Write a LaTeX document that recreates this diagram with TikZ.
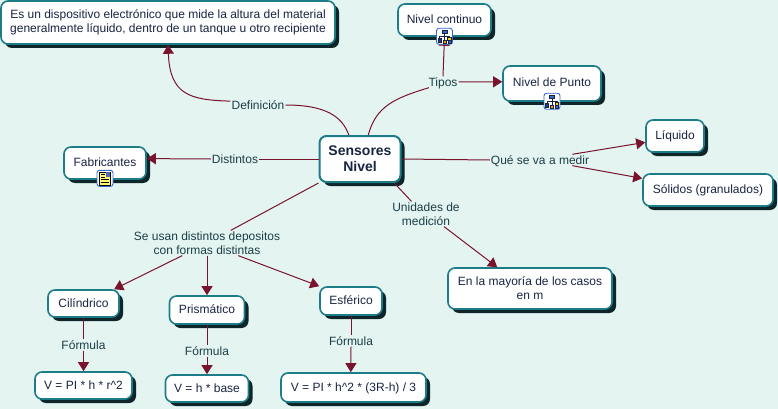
\documentclass[tikz,border=0pt]{standalone}
\usepackage{fontspec}
\setmainfont{Liberation Sans}
\usetikzlibrary{positioning,arrows.meta,shadows}
\definecolor{bgcol}{RGB}{227,244,241}
\definecolor{edgecol}{RGB}{28,125,137}
\definecolor{shadecol}{RGB}{14,38,42}
\definecolor{linkcol}{RGB}{122,20,46}
\definecolor{boxtxt}{RGB}{24,36,66}
\definecolor{labtxt}{RGB}{28,62,72}
\definecolor{iconcol}{RGB}{50,105,205}
\tikzset{
  iconframe/.style={draw=iconcol, fill=white, rounded corners=2.5pt, line width=0.9pt},
  hiericon/.pic={
    \path[iconframe] (-8,-8) rectangle (8,8);
    \draw[boxtxt, line width=0.4pt] (0,-3)--(0,4) (-5,0)--(5,0) (-5,0)--(-5,4) (5,0)--(5,1);
    \draw[boxtxt, fill=iconcol, line width=0.4pt] (-2.5,-6) rectangle (2.5,-3);
    \draw[boxtxt, fill=yellow!70!orange, line width=0.4pt] (3,1) rectangle (6.5,3.5);
    \draw[boxtxt, fill=iconcol!60!black, line width=0.4pt] (-6.5,1.5) rectangle (-3.5,6);
    \draw[boxtxt, fill=orange!80!yellow, line width=0.4pt] (-1.5,4) rectangle (1.5,6.5);
    \draw[boxtxt, fill=iconcol, line width=0.4pt] (3.5,4) rectangle (6.5,6.5);
  },
  docicon/.pic={
    \path[iconframe] (-8,-8) rectangle (8,8);
    \draw[black, fill=yellow!55, line width=0.6pt] (-5.5,-6.5) rectangle (5.5,6.5);
    \fill[iconcol!70!gray] (0.5,-6) rectangle (5,-1.5);
    \foreach \ly in {-3.5,-1}
      \draw[black, line width=0.7pt] (-4,\ly)--(0,\ly);
    \foreach \ly in {1.5,4}
      \draw[black, line width=0.7pt] (-4,\ly)--(4,\ly);
  },
}

\begin{document}
\begin{tikzpicture}[
  x=1pt, y=-1pt, on grid,
  txtbox/.style={rectangle, draw=edgecol, fill=white, line width=1.6pt, rounded corners=7pt,
                 text=boxtxt, align=center, inner sep=0pt, font=\fontsize{12}{14}\selectfont,
                 drop shadow={shadow xshift=4pt, shadow yshift=-4pt, fill=shadecol, opacity=1},
                 minimum width=#1},
  linebox/.style={txtbox=#1, text height=9pt, text depth=2pt},
  root/.style={txtbox=81pt, line width=2pt, font=\fontsize{14}{16}\selectfont\bfseries, minimum height=46pt},
  lab/.style={text=labtxt, align=center, inner sep=1pt, font=\fontsize{12}{14}\selectfont},
  lineab/.style={lab, text height=9pt, text depth=0pt},
  ea/.style={-{Triangle[length=9pt,width=11pt]}, linkcol, line width=1pt},
  el/.style={linkcol, line width=1pt},
]
\path[fill=bgcol] (0,0) rectangle (778,409);

\node[root] at (360,159) (root) {Sensores\\Nivel};

\node[txtbox=334pt, minimum height=43pt, above left=136.5pt and 192pt of root] (defn)
  {Es un dispositivo electrónico que mide la altura del material\\generalmente líquido, dentro de un tanque u otro recipiente};
\node[linebox=93pt, minimum height=32pt, above right=139pt and 84.5pt of root] (nivc) {Nivel continuo};
\node[linebox=98pt, minimum height=35pt, above right=75.5pt and 192pt of root] (nivp) {Nivel de Punto};
\node[linebox=58pt, minimum height=32pt, above right=23pt and 315pt of root] (liq) {Líquido};
\node[linebox=130pt, minimum height=32pt, below right=31pt and 348pt of root] (sol) {Sólidos (granulados)};
\node[linebox=82pt, minimum height=32pt, below left=4pt and 255pt of root] (fab) {Fabricantes};
\node[txtbox=164pt, minimum height=41pt, below right=129.5pt and 170pt of root] (casos) {En la mayoría de los casos\\en m};

\node[lineab, above left=54pt and 102pt of root] (ldef) {Definición};
\node[lineab, above right=77pt and 83pt of root] (ltip) {Tipos};
\node[lineab, left=125pt of root] (ldis) {Distintos};
\node[lineab, below right=1pt and 180pt of root] (lque) {Qué se va a medir};
\node[lab, below right=55pt and 66pt of root] (luni) {Unidades de\\medición};
\node[lab, below left=84pt and 153pt of root] (luse) {Se usan distintos depositos\\con formas distintas};

\node[linebox=71pt, minimum height=27pt, below left=60.5pt and 123.5pt of luse] (cil) {Cilíndrico};
\node[linebox=75pt, minimum height=28pt, below=67pt of luse] (pri) {Prismático};
\node[linebox=62pt, minimum height=28pt, below right=58pt and 144pt of luse] (esf) {Esférico};

\node[lineab, below=41.5pt of cil] (lf1) {Fórmula};
\node[lineab, below=41pt of pri] (lf2) {Fórmula};
\node[lineab, below=40pt of esf] (lf3) {Fórmula};

\node[linebox=97pt, minimum height=27pt, below=40.5pt of lf1] (vcil) {V = PI * h * r\^{}2};
\node[linebox=83pt, minimum height=27pt, below=37.5pt of lf2] (vpri) {V = h * base};
\node[linebox=145pt, minimum height=29pt, below right=46.5pt and 2.5pt of lf3] (vesf) {V = PI * h\^{}2 * (3R-h) / 3};

% Curved links on top
\draw[el] (root.115) .. controls (342,116) and (325,105) .. (ldef.east);
\draw[ea] (ldef.172) .. controls (190,100) and (170,95) .. (defn.south);
\draw[el] (root.71) .. controls (376,106) and (395,98) .. (ltip.202);

% Plain links
\foreach \a/\b in {root.west/ldis.east, root.east/lque.west, root.325/luni.139,
                   root.south west/luse.28, cil.south/lf1.north, pri.south/lf2.north, esf.south/lf3.north}
  \draw[el] (\a)--(\b);
\foreach \a/\b in {ltip.north/nivc.south, ltip.east/nivp.178, ldis.west/fab.6,
                   lque.10/liq.192, lque.350/sol.170, luni.325/casos.147,
                   luse.207/cil.25, luse.south/pri.north, luse.338/esf.north west,
                   lf1.south/vcil.north, lf2.south/vpri.north, lf3.south/vesf.100}
  \draw[ea] (\a)--(\b);

% Icons sit over the box edge
\pic (icc) at ([yshift=0.5pt]nivc.south) {hiericon};
\pic (icp) at ([yshift=0.5pt]nivp.south) {hiericon};
\pic (icf) at ([yshift=1.5pt]fab.south) {docicon};
\end{tikzpicture}
\end{document}
